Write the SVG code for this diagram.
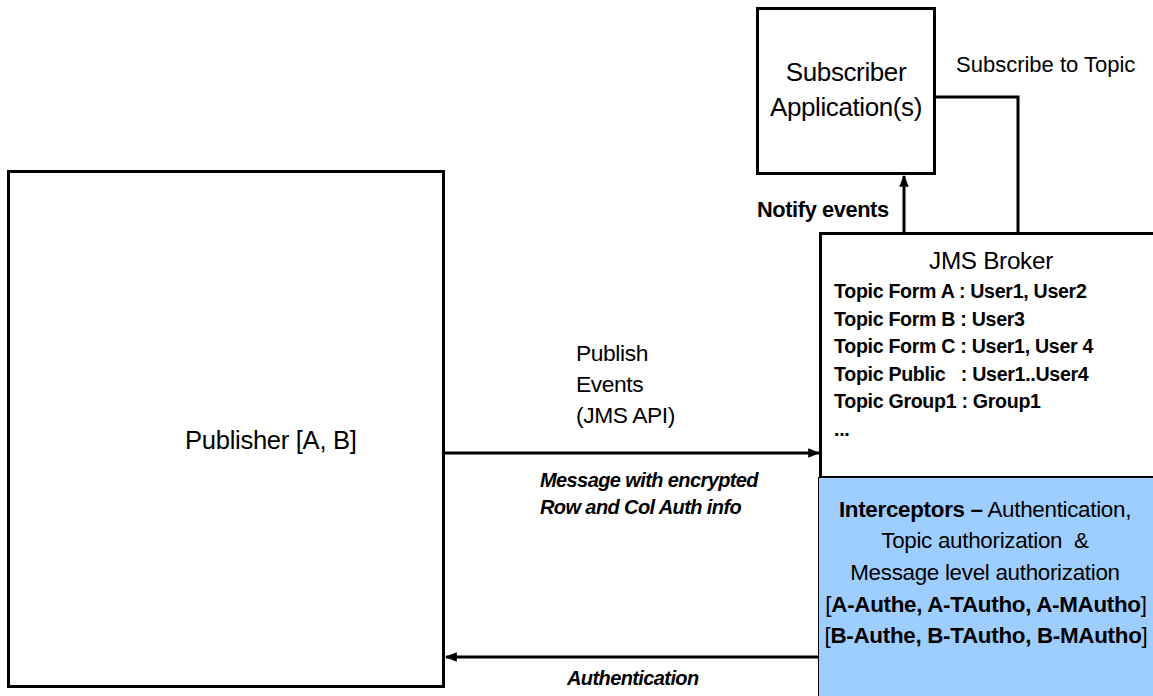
<svg xmlns="http://www.w3.org/2000/svg" width="1153" height="696" viewBox="0 0 1153 696">
<style>
text{font-family:"Liberation Sans",Arial,sans-serif;fill:#000}
.box{fill:#fff;stroke:#000;stroke-width:3}
.ln{fill:none;stroke:#000;stroke-width:3}
.b{font-weight:bold}
.t{font-weight:bold;font-size:19.6px;letter-spacing:-0.3px}
.bi{font-weight:bold;font-style:italic;font-size:20px;letter-spacing:-0.6px}
.ic{font-size:22.4px;letter-spacing:-0.3px}
</style>
<defs>
<marker id="ah" viewBox="0 0 10 10" refX="9" refY="5" markerWidth="4" markerHeight="4" orient="auto" markerUnits="strokeWidth">
<path d="M0,1 L10,5 L0,9 z" fill="#000"/>
</marker>
</defs>
<rect width="1153" height="696" fill="#fff"/>
<g id="publisher">
<rect class="box" x="8.5" y="171.5" width="435" height="515"/>
<text x="185" y="449" font-size="25.6" letter-spacing="-0.3">Publisher [A, B]</text>
</g>
<g id="subscriber">
<rect class="box" x="757.5" y="8.5" width="177" height="165"/>
<text x="846" y="81" font-size="26" text-anchor="middle" letter-spacing="-0.4">Subscriber</text>
<text x="846" y="116" font-size="26" text-anchor="middle" letter-spacing="-0.4">Application(s)</text>
</g>
<g id="broker">
<rect class="box" x="820.5" y="233.5" width="340" height="244"/>
<text x="991" y="269" font-size="24.3" text-anchor="middle" letter-spacing="-0.3">JMS Broker</text>
<text class="t" x="834" y="298">Topic Form A : User1, User2</text>
<text class="t" x="834" y="326">Topic Form B : User3</text>
<text class="t" x="834" y="353">Topic Form C : User1, User 4</text>
<text class="t" x="834" y="381" xml:space="preserve">Topic Public   : User1..User4</text>
<text class="t" x="834" y="408">Topic Group1 : Group1</text>
<text class="t" x="834" y="436">...</text>
</g>
<g id="interceptors">
<rect x="818.5" y="477.5" width="340" height="225" fill="#9ECEFF" stroke="#000" stroke-width="1"/>
<text class="ic" x="985" y="517" text-anchor="middle"><tspan class="b">Interceptors –</tspan> Authentication,</text>
<text class="ic" x="985" y="548" text-anchor="middle" xml:space="preserve">Topic authorization  &amp;</text>
<text class="ic" x="985" y="580" text-anchor="middle">Message level authorization</text>
<text class="ic" x="986" y="612" text-anchor="middle">[<tspan class="b">A-Authe, A-TAutho, A-MAutho</tspan>]</text>
<text class="ic" x="986" y="643" text-anchor="middle">[<tspan class="b">B-Authe, B-TAutho, B-MAutho</tspan>]</text>
</g>
<g id="connectors">
<polyline class="ln" points="935,97 1018,97 1018,233"/>
<line class="ln" x1="904" y1="233" x2="904" y2="176" marker-end="url(#ah)"/>
<line class="ln" x1="444" y1="453" x2="819" y2="453" marker-end="url(#ah)"/>
<line class="ln" x1="818" y1="657" x2="446" y2="657" marker-end="url(#ah)"/>
<text x="956" y="72" font-size="22">Subscribe to Topic</text>
<text class="b" x="757" y="217" font-size="21.8" letter-spacing="-0.4">Notify events</text>
<text x="576" y="361" font-size="22.8" letter-spacing="-0.4">Publish</text>
<text x="576" y="392" font-size="22.8" letter-spacing="-0.4">Events</text>
<text x="576" y="423" font-size="22.8" letter-spacing="-0.4">(JMS API)</text>
<text class="bi" x="540" y="487">Message with encrypted</text>
<text class="bi" x="540" y="514">Row and Col Auth info</text>
<text class="bi" x="567" y="685">Authentication</text>
</g>
</svg>
